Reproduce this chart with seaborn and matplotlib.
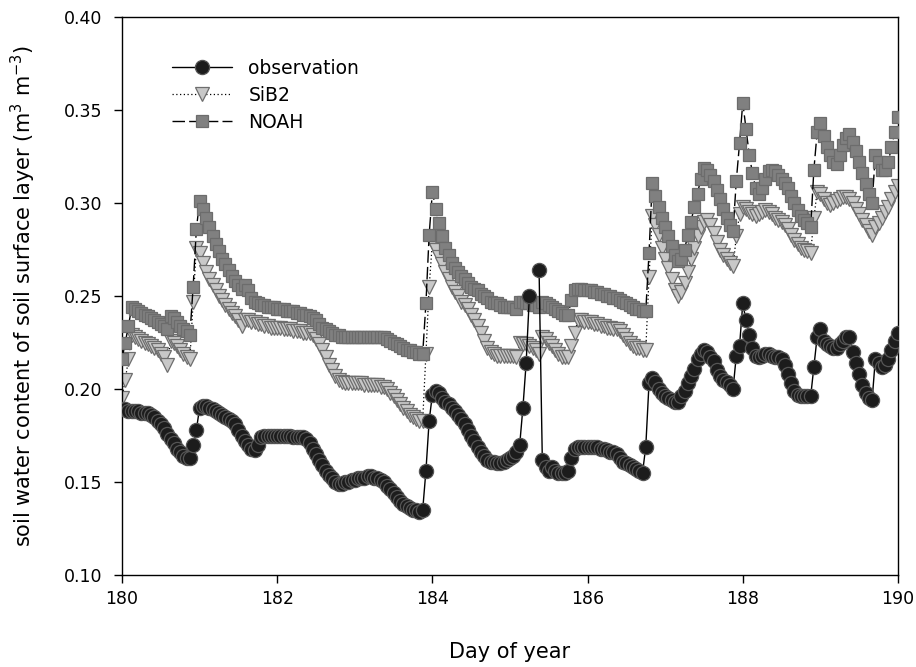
import numpy as np
import pandas as pd
import matplotlib
matplotlib.use("Agg")
import matplotlib.pyplot as plt
from matplotlib.lines import Line2D
import seaborn as sns

# Soil water content of the surface layer (m3 m-3), hourly, day 180 00:00 -> day 190 00:00.
# Each line below holds one day (24 hourly values); the last value is day 190 00:00.
start_day = 180
steps_per_day = 24

obs_swc = [
    0.189, 0.189, 0.188, 0.188, 0.188, 0.188, 0.187, 0.187, 0.187, 0.186, 0.185, 0.183, 0.181, 0.179, 0.176, 0.173, 0.171, 0.168, 0.166, 0.164, 0.163, 0.163, 0.170, 0.178,
    0.190, 0.191, 0.191, 0.190, 0.189, 0.188, 0.187, 0.186, 0.185, 0.184, 0.183, 0.181, 0.178, 0.175, 0.172, 0.170, 0.168, 0.167, 0.170, 0.174, 0.175, 0.175, 0.175, 0.175,
    0.175, 0.175, 0.175, 0.175, 0.175, 0.174, 0.174, 0.174, 0.174, 0.173, 0.171, 0.168, 0.165, 0.162, 0.159, 0.156, 0.154, 0.152, 0.150, 0.149, 0.149, 0.150, 0.150, 0.151,
    0.151, 0.152, 0.152, 0.152, 0.153, 0.153, 0.152, 0.152, 0.151, 0.150, 0.148, 0.146, 0.144, 0.142, 0.140, 0.138, 0.137, 0.136, 0.135, 0.135, 0.134, 0.135, 0.156, 0.183,
    0.197, 0.199, 0.198, 0.195, 0.193, 0.192, 0.190, 0.188, 0.186, 0.184, 0.181, 0.178, 0.175, 0.172, 0.169, 0.166, 0.164, 0.162, 0.161, 0.161, 0.160, 0.160, 0.161, 0.162,
    0.163, 0.164, 0.166, 0.170, 0.190, 0.214, 0.250, np.nan, np.nan, 0.264, 0.162, 0.158, 0.156, 0.158, 0.156, 0.155, 0.155, 0.155, 0.156, 0.163, 0.168, 0.169, 0.169, 0.169,
    0.169, 0.169, 0.169, 0.169, 0.168, 0.168, 0.167, 0.166, 0.166, 0.165, 0.163, 0.161, 0.160, 0.159, 0.158, 0.157, 0.156, 0.155, 0.169, 0.203, 0.206, 0.204, 0.200, 0.198,
    0.196, 0.195, 0.194, 0.193, 0.193, 0.196, 0.199, 0.203, 0.207, 0.211, 0.216, 0.219, 0.221, 0.220, 0.217, 0.215, 0.210, 0.207, 0.205, 0.204, 0.202, 0.200, 0.218, 0.223,
    0.246, 0.237, 0.229, 0.222, 0.218, 0.217, 0.218, 0.219, 0.219, 0.218, 0.217, 0.217, 0.216, 0.213, 0.208, 0.203, 0.199, 0.197, 0.196, 0.196, 0.196, 0.196, 0.212, 0.228,
    0.232, 0.226, 0.224, 0.223, 0.222, 0.222, 0.224, 0.226, 0.228, 0.228, 0.220, 0.214, 0.208, 0.202, 0.198, 0.195, 0.194, 0.216, 0.214, 0.212, 0.213, 0.216, 0.221, 0.226,
    0.230,
]

sib2_swc = [
    0.195, 0.205, 0.216, 0.229, 0.228, 0.227, 0.226, 0.225, 0.224, 0.223, 0.222, 0.221, 0.219, 0.217, 0.213, 0.226, 0.225, 0.223, 0.221, 0.219, 0.217, 0.216, 0.247, 0.276,
    0.273, 0.268, 0.263, 0.259, 0.256, 0.253, 0.250, 0.248, 0.245, 0.243, 0.241, 0.239, 0.237, 0.234, 0.237, 0.237, 0.236, 0.236, 0.235, 0.235, 0.234, 0.234, 0.233, 0.233,
    0.233, 0.233, 0.232, 0.232, 0.232, 0.231, 0.231, 0.231, 0.230, 0.230, 0.230, 0.229, 0.227, 0.224, 0.221, 0.217, 0.213, 0.210, 0.207, 0.205, 0.204, 0.203, 0.203, 0.203,
    0.203, 0.203, 0.203, 0.202, 0.202, 0.202, 0.202, 0.202, 0.201, 0.201, 0.200, 0.198, 0.196, 0.194, 0.192, 0.190, 0.188, 0.186, 0.185, 0.184, 0.183, 0.183, 0.219, 0.255,
    0.279, 0.275, 0.271, 0.267, 0.263, 0.259, 0.255, 0.252, 0.250, 0.247, 0.245, 0.243, 0.240, 0.237, 0.234, 0.230, 0.226, 0.222, 0.220, 0.219, 0.218, 0.218, 0.218, 0.218,
    0.218, 0.218, 0.217, 0.225, 0.224, 0.224, 0.223, 0.222, 0.221, 0.219, 0.228, 0.227, 0.225, 0.223, 0.221, 0.219, 0.217, 0.217, 0.217, 0.223, 0.230, 0.237, 0.237, 0.236,
    0.236, 0.236, 0.235, 0.235, 0.234, 0.234, 0.233, 0.233, 0.232, 0.232, 0.231, 0.229, 0.227, 0.225, 0.223, 0.222, 0.222, 0.221, 0.221, 0.260, 0.293, 0.288, 0.283, 0.276,
    0.270, 0.265, 0.259, 0.253, 0.250, 0.252, 0.257, 0.263, 0.270, 0.276, 0.282, 0.287, 0.290, 0.291, 0.288, 0.284, 0.279, 0.275, 0.272, 0.270, 0.268, 0.266, 0.282, 0.294,
    0.298, 0.297, 0.295, 0.294, 0.293, 0.294, 0.295, 0.296, 0.295, 0.294, 0.292, 0.291, 0.290, 0.288, 0.286, 0.283, 0.280, 0.278, 0.276, 0.275, 0.274, 0.273, 0.292, 0.306,
    0.305, 0.302, 0.300, 0.299, 0.300, 0.301, 0.302, 0.303, 0.303, 0.302, 0.300, 0.297, 0.294, 0.291, 0.288, 0.285, 0.283, 0.287, 0.289, 0.292, 0.295, 0.298, 0.302, 0.306,
    0.309,
]

noah_swc = [
    0.216, 0.225, 0.234, 0.244, 0.243, 0.242, 0.241, 0.240, 0.239, 0.238, 0.237, 0.236, 0.235, 0.234, 0.232, 0.239, 0.238, 0.236, 0.234, 0.232, 0.231, 0.229, 0.255, 0.286,
    0.301, 0.297, 0.292, 0.287, 0.282, 0.278, 0.274, 0.270, 0.267, 0.264, 0.261, 0.258, 0.256, 0.254, 0.256, 0.253, 0.249, 0.247, 0.246, 0.245, 0.245, 0.244, 0.244, 0.244,
    0.243, 0.243, 0.243, 0.242, 0.242, 0.242, 0.241, 0.241, 0.240, 0.240, 0.239, 0.238, 0.237, 0.235, 0.233, 0.232, 0.231, 0.230, 0.229, 0.229, 0.228, 0.228, 0.228, 0.228,
    0.228, 0.228, 0.228, 0.228, 0.228, 0.228, 0.228, 0.228, 0.228, 0.228, 0.227, 0.226, 0.225, 0.224, 0.223, 0.222, 0.221, 0.221, 0.220, 0.220, 0.219, 0.219, 0.246, 0.283,
    0.306, 0.297, 0.289, 0.282, 0.276, 0.272, 0.268, 0.265, 0.263, 0.261, 0.259, 0.257, 0.255, 0.254, 0.253, 0.251, 0.250, 0.249, 0.247, 0.246, 0.246, 0.245, 0.244, 0.244,
    0.244, 0.244, 0.243, 0.247, 0.247, 0.246, 0.246, 0.245, 0.245, 0.244, 0.247, 0.246, 0.245, 0.244, 0.243, 0.242, 0.241, 0.240, 0.240, 0.248, 0.253, 0.254, 0.254, 0.253,
    0.253, 0.253, 0.252, 0.252, 0.251, 0.251, 0.250, 0.250, 0.249, 0.249, 0.248, 0.247, 0.246, 0.245, 0.244, 0.243, 0.243, 0.242, 0.242, 0.273, 0.311, 0.304, 0.298, 0.292,
    0.287, 0.282, 0.277, 0.272, 0.269, 0.270, 0.275, 0.283, 0.290, 0.298, 0.305, 0.313, 0.319, 0.318, 0.315, 0.312, 0.307, 0.302, 0.297, 0.292, 0.288, 0.285, 0.312, 0.332,
    0.354, 0.340, 0.326, 0.316, 0.308, 0.305, 0.308, 0.313, 0.317, 0.318, 0.317, 0.315, 0.313, 0.311, 0.308, 0.304, 0.300, 0.296, 0.293, 0.291, 0.289, 0.287, 0.318, 0.338,
    0.343, 0.336, 0.330, 0.326, 0.322, 0.321, 0.326, 0.331, 0.335, 0.337, 0.333, 0.328, 0.322, 0.316, 0.310, 0.305, 0.300, 0.326, 0.322, 0.318, 0.318, 0.322, 0.330, 0.338,
    0.346,
]

series_labels = ["observation", "SiB2", "NOAH"]
x_ticks = [180, 182, 184, 186, 188, 190]
y_ticks = [0.10, 0.15, 0.20, 0.25, 0.30, 0.35, 0.40]

# ---------------------------------------------------------------- data frame
hours = np.arange(len(obs_swc))
df = pd.DataFrame({
    "day": start_day + hours / steps_per_day,
    "obs": obs_swc,
    "sib2": sib2_swc,
    "noah": noah_swc,
})
# missing observations split the observed record into separate line pieces
df["seg"] = df["obs"].isna().cumsum()
obs_df = df.dropna(subset=["obs"])

# ---------------------------------------------------------------- styling
sns.set_style("ticks")
plt.rcParams["font.family"] = ["DejaVu Sans"]
plt.rcParams["mathtext.fontset"] = "dejavusans"
for key in ["text.color", "axes.labelcolor", "xtick.color", "ytick.color",
            "axes.edgecolor"]:
    plt.rcParams[key] = "black"

obs_style = dict(color="black", linewidth=1.0, linestyle="-", marker="o",
                 markersize=10.2, markerfacecolor="#1c1c1c",
                 markeredgecolor="#555555", markeredgewidth=0.9)
sib2_style = dict(color="black", linewidth=0.9, linestyle=(0, (1, 2)), marker="v",
                  markersize=9.6, markerfacecolor="#c8c8c8",
                  markeredgecolor="#6e6e6e", markeredgewidth=0.9)
noah_style = dict(color="black", linewidth=1.0, linestyle=(0, (9, 3)), marker="s",
                  markersize=8.8, markerfacecolor="#808080",
                  markeredgecolor="#6c6c6c", markeredgewidth=0.9)

fig, ax = plt.subplots(figsize=(9.16, 6.67), dpi=100)
fig.subplots_adjust(left=0.1332, right=0.9803, top=0.9745, bottom=0.1379)

sns.lineplot(data=df, x="day", y="sib2", ax=ax, estimator=None, errorbar=None,
             legend=False, zorder=2, **sib2_style)
sns.lineplot(data=df, x="day", y="noah", ax=ax, estimator=None, errorbar=None,
             legend=False, zorder=3, **noah_style)
sns.lineplot(data=obs_df, x="day", y="obs", units="seg", ax=ax, estimator=None,
             errorbar=None, legend=False, zorder=4, **obs_style)

# ---------------------------------------------------------------- axes
ax.set_xlim(x_ticks[0], x_ticks[-1])
ax.set_ylim(y_ticks[0], y_ticks[-1])
ax.set_xticks(x_ticks)
ax.set_xticklabels([str(t) for t in x_ticks])
ax.set_yticks(y_ticks)
ax.set_yticklabels([f"{t:.2f}" for t in y_ticks])
ax.tick_params(axis="both", direction="out", length=6, width=1.0,
               labelsize=12.5, colors="black", top=False, right=False)
ax.tick_params(axis="y", pad=8)
ax.tick_params(axis="x", pad=5)
for side in ["left", "right", "top", "bottom"]:
    ax.spines[side].set_visible(True)
    ax.spines[side].set_linewidth(1.0)
    ax.spines[side].set_color("black")

ax.set_xlabel("Day of year", fontsize=15, labelpad=24)
ax.set_ylabel("soil water content of soil surface layer (m$^{3}$ m$^{-3}$)",
              fontsize=15, labelpad=19)

# ---------------------------------------------------------------- legend
handles = [Line2D([], [], **obs_style), Line2D([], [], **sib2_style),
           Line2D([], [], **noah_style)]
ax.legend(handles, series_labels, loc="upper left", bbox_to_anchor=(0.065, 0.925),
          frameon=False, fontsize=13.5, handlelength=3.2, handletextpad=0.85,
          labelspacing=0.42, borderpad=0, borderaxespad=0)

fig.savefig("out.png", dpi=100)
